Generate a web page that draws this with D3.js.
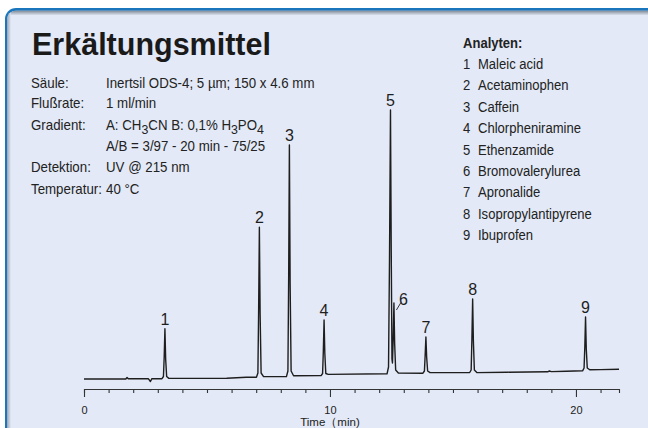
<!DOCTYPE html>
<html>
<head>
<meta charset="utf-8">
<script src="https://cdn.jsdelivr.net/npm/d3@7"></script>
<style>
  body { margin: 0; background: #fff; }
  svg { display: block; }
</style>
</head>
<body>
<div id="container"></div>
<script>
// ---------------------------- DATA ----------------------------//
var title = "Erkältungsmittel";

var infoLabels = ["Säule:", "Flußrate:", "Gradient:", "", "Detektion:", "Temperatur:"];
// "_" marks subscript segments
var infoValues = [
  "Inertsil ODS-4; 5 µm; 150 x 4.6 mm",
  "1 ml/min",
  "A: CH_3_CN B: 0,1% H_3_PO_4",
  "A/B = 3/97 - 20 min - 75/25",
  "UV @ 215 nm",
  "40 °C"
];

var legendTitle = "Analyten:";
var analytes = ["Maleic acid", "Acetaminophen", "Caffein", "Chlorpheniramine", "Ethenzamide",
                "Bromovalerylurea", "Apronalide", "Isopropylantipyrene", "Ibuprofen"];

// peak apex: retention time (min) and signal (apex level)
var peakNumbers = [1, 2, 3, 4, 5, 6, 7, 8, 9];
var peakTimes   = [3.29, 7.13, 8.35, 9.76, 12.46, 12.60, 13.90, 15.80, 20.39];
var peakSignals = [50.3, 151.8, 234, 59, 269, 76, 42, 80, 62];

// chromatogram trace [time (min), signal]
var trace = [
  [0, 0], [1.70, 0], [1.75, 1.5], [1.80, 0.2], [2.62, 0.2], [2.70, -2.5], [2.76, 0.4],
  [3.17, 0.3], [3.23, 2.5], [3.26, 22], [3.29, 50.3], [3.32, 20], [3.36, 2.5], [3.45, 0.6],
  [4.5, 0.6], [5.8, 0.8], [6.6, 1.8], [7.01, 1.8],
  [7.07, 6], [7.10, 70], [7.13, 151.8], [7.16, 65], [7.20, 6], [7.30, 2.4],
  [8.23, 2.4], [8.29, 8], [8.32, 100], [8.35, 234], [8.38, 95], [8.42, 8], [8.52, 3.2],
  [9.64, 3.4], [9.70, 5.5], [9.73, 28], [9.76, 59], [9.79, 26], [9.83, 5.5], [9.93, 4.6],
  [12.32, 5.2], [12.38, 12], [12.42, 120], [12.46, 269], [12.49, 130], [12.52, 20], [12.54, 16],
  [12.57, 40], [12.60, 76], [12.63, 35], [12.67, 9], [12.78, 6],
  [13.78, 5.8], [13.84, 8], [13.87, 24], [13.90, 42], [13.93, 22], [13.97, 8], [14.07, 6.4],
  [15.68, 6.5], [15.74, 9], [15.77, 40], [15.80, 80], [15.83, 38], [15.87, 9], [15.97, 6.4],
  [17.2, 6.8], [18.85, 7.2], [18.92, 8], [19.0, 7.4], [19.6, 7.8], [20.27, 8.2],
  [20.33, 11], [20.36, 32], [20.39, 62], [20.42, 30], [20.46, 11], [20.56, 9.2],
  [21.0, 9.4], [21.75, 9.7]
];

var timeTicks = d3.range(0, 22);
var timeLabels = [0, 10, 20];
var axisTitle = "Time（min)";

// ---------------------------- SVG -----------------------------//
const width = 648;
const height = 428;
const bg = "#e3e9f6";
const ink = "#1e1e1e";

const svg = d3.select("div#container").append("svg")
    .attr("width", width)
    .attr("height", height);

const defs = svg.append("defs");
const gTop = defs.append("linearGradient").attr("id", "shTop")
    .attr("x1", 0).attr("y1", 0).attr("x2", 0).attr("y2", 1);
gTop.append("stop").attr("offset", 0).attr("stop-color", "#7d8694");
gTop.append("stop").attr("offset", 1).attr("stop-color", bg);
const gLeft = defs.append("linearGradient").attr("id", "shLeft")
    .attr("x1", 0).attr("y1", 0).attr("x2", 1).attr("y2", 0);
gLeft.append("stop").attr("offset", 0).attr("stop-color", "#8a93a2");
gLeft.append("stop").attr("offset", 1).attr("stop-color", bg);
defs.append("clipPath").attr("id", "inner")
  .append("rect").attr("x", 7).attr("y", 10.5).attr("width", 700).attr("height", 500).attr("rx", 9);

// panel
svg.append("rect").attr("x", 5).attr("y", 8).attr("width", 700).attr("height", 500)
    .attr("rx", 11).attr("fill", "#1b77bd");
const inner = svg.append("g").attr("clip-path", "url(#inner)");
inner.append("rect").attr("x", 7).attr("y", 10.5).attr("width", 700).attr("height", 500).attr("fill", bg);
inner.append("rect").attr("x", 7).attr("y", 10.5).attr("width", 700).attr("height", 5).attr("fill", "url(#shTop)");
inner.append("rect").attr("x", 7).attr("y", 10.5).attr("width", 4).attr("height", 500).attr("fill", "url(#shLeft)")
    .attr("opacity", 0.8);

// ---------------------------- TEXT ----------------------------//
svg.append("text")
    .attr("x", 32).attr("y", 55)
    .style("font-family", "'Liberation Sans', Arial, sans-serif")
    .style("font-weight", "bold").style("font-size", "30.5px")
    .attr("fill", "#1a1a1a")
    .text(title);

// the original uses a condensed face; squeeze the regular one horizontally
const sans = "'Liberation Sans', Arial, sans-serif";
const infoY = [88, 108, 130.5, 151.5, 172, 194.5];
const infoSqueeze = 0.95;

const info = svg.append("g")
    .attr("transform", "translate(31,0) scale(" + infoSqueeze + ",1)")
    .style("font-family", sans).style("font-size", "14px").attr("fill", "#222");

infoLabels.forEach(function(lbl, i) {
  info.append("text").attr("x", 0).attr("y", infoY[i]).text(lbl);
  var t = info.append("text").attr("x", (106 - 31) / infoSqueeze).attr("y", infoY[i]);
  var parts = infoValues[i].split("_");
  var shifted = false;
  parts.forEach(function(p, k) {
    if (p === "") return;
    var sub = k % 2 === 1;
    var ts = t.append("tspan").text(p);
    if (sub && !shifted) { ts.attr("dy", 4).style("font-size", "13px"); shifted = true; }
    else if (sub) { ts.style("font-size", "13px"); }
    else if (shifted) { ts.attr("dy", -4); shifted = false; }
  });
});

const legSqueeze = 0.9;
const legend = svg.append("g")
    .attr("transform", "translate(463,0) scale(" + legSqueeze + ",1)")
    .style("font-family", sans).style("font-size", "14.5px").attr("fill", "#222");
legend.append("text").attr("x", 0).attr("y", 48)
    .style("font-weight", "bold").text(legendTitle);
analytes.forEach(function(name, i) {
  var y = 69 + i * 21.4;
  legend.append("text").attr("x", 0).attr("y", y).text(i + 1);
  legend.append("text").attr("x", 15 / legSqueeze).attr("y", y).text(name);
});

// --------------------------- SCALES ---------------------------//
const xScale = d3.scaleLinear().domain([0, 21.75]).range([84, 619]);
const yScale = d3.scaleLinear().domain([0, 300]).range([379, 79]);

// --------------------------- AXIS -----------------------------//
const xaxis = d3.axisBottom(xScale)
    .tickValues(timeTicks)
    .tickSizeOuter(0)
    .tickSize(4)
    .tickFormat(function(d) { return timeLabels.indexOf(d) >= 0 ? d : ""; });

const axisG = svg.append("g")
    .attr("transform", "translate(0,389)")
    .call(xaxis);
axisG.select(".domain").attr("stroke", "#333").attr("stroke-width", 1.1);
axisG.selectAll(".tick line")
    .attr("stroke", "#333").attr("stroke-width", 1.1)
    .attr("y2", function(d) { return timeLabels.indexOf(d) >= 0 ? 8 : 4; });
axisG.selectAll(".tick text")
    .attr("y", 17)
    .style("font-family", sans)
    .style("font-size", "11px").attr("fill", "#222");

svg.append("text")
    .attr("x", xScale(10)).attr("y", 425.5)
    .attr("text-anchor", "middle")
    .style("font-family", sans)
    .style("font-size", "11.5px").attr("fill", "#222")
    .text(axisTitle);

// --------------------------- TRACE ----------------------------//
const line = d3.line()
    .x(function(d) { return xScale(d[0]); })
    .y(function(d) { return yScale(d[1]); });

svg.append("path")
    .datum(trace)
    .attr("d", line)
    .attr("fill", "none")
    .attr("stroke", ink)
    .attr("stroke-width", 1.4)
    .attr("stroke-linejoin", "round");

// --------------------------- LABELS ---------------------------//
const labels = svg.append("g")
    .style("font-family", sans)
    .style("font-size", "16px").attr("fill", ink)
    .attr("text-anchor", "middle");

peakNumbers.forEach(function(n, i) {
  var px = xScale(peakTimes[i]);
  var py = yScale(peakSignals[i]);
  if (n === 6) {
    labels.append("text").attr("x", px + 9.5).attr("y", py + 2).text(n);
    svg.append("line")
      .attr("x1", px + 2.5).attr("y1", py + 7)
      .attr("x2", px + 7).attr("y2", py - 0.5)
      .attr("stroke", ink).attr("stroke-width", 0.9);
  } else {
    labels.append("text").attr("x", px).attr("y", py - 4).text(n);
  }
});
</script>
</body>
</html>
